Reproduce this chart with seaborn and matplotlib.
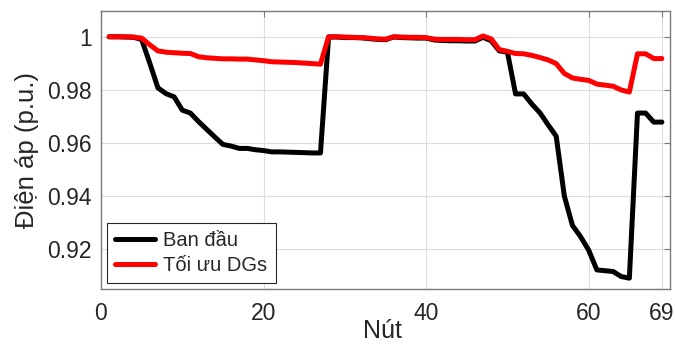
import matplotlib
matplotlib.use('Agg')
import matplotlib.pyplot as plt
import numpy as np
import pandas as pd
import seaborn as sns

nodes = list(range(1, 70))
v_ban_dau = [1.0000, 1.0000, 0.9999, 0.9998, 0.9990, 0.9901, 0.9808, 0.9786, 0.9774, 0.9724,
             0.9713, 0.9681, 0.9652, 0.9623, 0.9595, 0.9589, 0.9580, 0.9580, 0.9575, 0.9572,
             0.9567, 0.9567, 0.9566, 0.9565, 0.9564, 0.9563, 0.9563, 0.9999, 0.9999, 0.9997,
             0.9997, 0.9996, 0.9993, 0.9990, 0.9989, 0.9999, 0.9997, 0.9996, 0.9995, 0.9995,
             0.9988, 0.9986, 0.9985, 0.9985, 0.9984, 0.9984, 0.9998, 0.9985, 0.9947, 0.9942,
             0.9785, 0.9785, 0.9747, 0.9714, 0.9669, 0.9626, 0.9401, 0.9290, 0.9248, 0.9197,
             0.9123, 0.9120, 0.9117, 0.9098, 0.9092, 0.9713, 0.9713, 0.9679, 0.9679]
v_toi_uu = [1.0000, 1.0000, 1.0000, 0.9999, 0.9995, 0.9970, 0.9947, 0.9942, 0.9940, 0.9938,
            0.9937, 0.9925, 0.9921, 0.9919, 0.9917, 0.9917, 0.9916, 0.9916, 0.9913, 0.9910,
            0.9906, 0.9905, 0.9904, 0.9903, 0.9901, 0.9899, 0.9897, 1.0000, 1.0000, 0.9999,
            0.9998, 0.9997, 0.9995, 0.9992, 0.9991, 1.0000, 0.9999, 0.9998, 0.9998, 0.9997,
            0.9991, 0.9990, 0.9990, 0.9990, 0.9989, 0.9989, 1.0003, 0.9992, 0.9952, 0.9945,
            0.9937, 0.9936, 0.9930, 0.9922, 0.9913, 0.9899, 0.9862, 0.9845, 0.9840, 0.9836,
            0.9822, 0.9818, 0.9814, 0.9800, 0.9792, 0.9936, 0.9936, 0.9918, 0.9918]
series_labels = ['Ban đầu', 'Tối ưu DGs']
x_ticks = [0, 20, 40, 60, 69]
y_ticks = [0.92, 0.94, 0.96, 0.98, 1.0]
y_tick_labels = ['0.92', '0.94', '0.96', '0.98', '1']

sns.set_theme(style='white')
plt.rcParams['font.family'] = ['Liberation Sans', 'DejaVu Sans']

df = pd.DataFrame({
    'Nút': nodes * 2,
    'V': v_ban_dau + v_toi_uu,
    'Series': [series_labels[0]] * len(nodes) + [series_labels[1]] * len(nodes),
})

fig = plt.figure(figsize=(6.75, 3.5), dpi=100)
ax = fig.add_axes([0.1496, 0.1734, 0.8430, 0.7952])
sns.lineplot(data=df, x='Nút', y='V', hue='Series', palette=['black', '#ff0000'],
             linewidth=3.6, ax=ax, estimator=None)

ax.set_xlim(0, 70)
ax.set_ylim(0.905, 1.0097)
ax.set_xticks(x_ticks)
ax.set_yticks(y_ticks)
ax.set_yticklabels(y_tick_labels)
ax.grid(True, color='#dcdcdc', linewidth=0.8)
ax.set_axisbelow(True)
for s in ax.spines.values():
    s.set_visible(True)
    s.set_color('#7a7a7a')
    s.set_linewidth(1.0)
ax.tick_params(axis='both', direction='in', length=4, width=0.8, color='#7a7a7a',
               labelcolor='#262626', labelsize=16.5, top=True, right=True)
ax.tick_params(axis='x', pad=9)
ax.tick_params(axis='y', pad=6.5)
ax.set_xlabel('Nút', fontsize=18, color='#262626')
ax.set_ylabel('Điện áp (p.u.)', fontsize=18.5, color='#262626')
ax.xaxis.set_label_coords(0.495, -0.108)
ax.yaxis.set_label_coords(-0.109, 0.5)

leg = ax.legend(loc='lower left', fontsize=14.5, frameon=True, fancybox=False, framealpha=1,
                edgecolor='#262626', borderaxespad=0.3, handlelength=2.0, title=None,
                borderpad=0.4, labelspacing=0.3, handletextpad=0.4)
leg.get_frame().set_linewidth(0.8)
for line in leg.get_lines():
    line.set_linewidth(3.6)

fig.savefig('out.png', dpi=100)
